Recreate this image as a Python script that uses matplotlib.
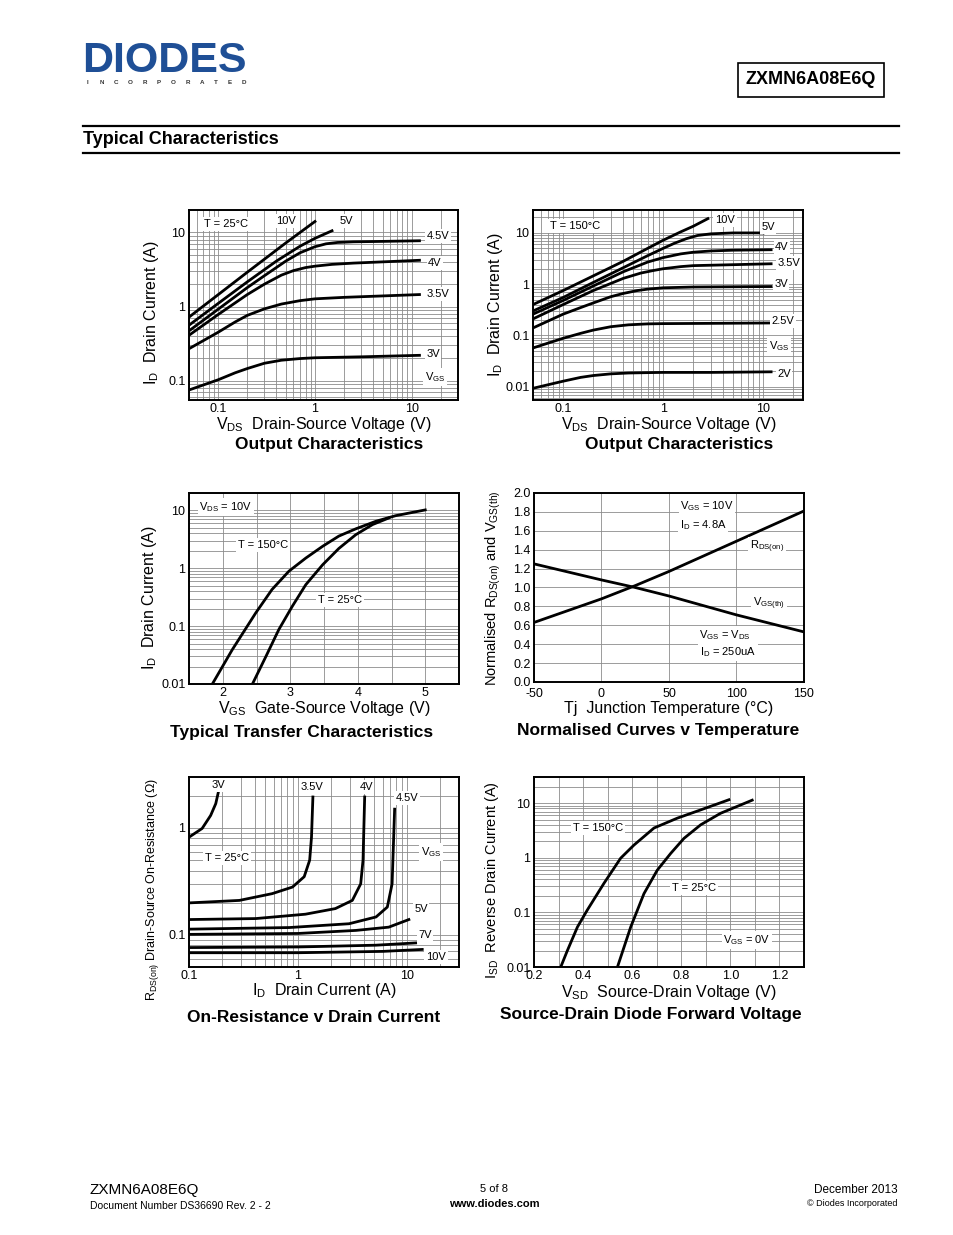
import matplotlib
matplotlib.use("Agg")
import matplotlib.pyplot as plt
from matplotlib.ticker import LogLocator, NullFormatter, MultipleLocator

plt.rcParams['font.family'] = ['Liberation Sans', 'DejaVu Sans']
plt.rcParams['mathtext.fontset'] = 'custom'
plt.rcParams['mathtext.rm'] = 'Liberation Sans'
plt.rcParams['mathtext.it'] = 'Liberation Sans'
plt.rcParams['mathtext.bf'] = 'Liberation Sans:bold'

W, H = 954, 1235

# Output characteristics, T = 25C  (VDS in V, ID in A)
out25_vgs = ["10V", "5V", "4.5V", "4V", "3.5V", "3V"]
out25_vds = [
    [0.05, 0.2, 0.5, 1.0],
    [0.05, 0.1, 0.2, 0.4, 0.7, 1.0, 1.5],
    [0.05, 0.1, 0.2, 0.3, 0.5, 0.7, 1.0, 1.3, 1.7, 2.5, 5, 12],
    [0.05, 0.1, 0.2, 0.3, 0.45, 0.6, 0.8, 1.0, 1.5, 2.5, 5, 12],
    [0.05, 0.1, 0.15, 0.2, 0.3, 0.45, 0.7, 1, 2, 5, 12],
    [0.05, 0.1, 0.15, 0.2, 0.3, 0.45, 0.7, 1, 3, 12],
]
out25_id = [
    [0.72, 2.9, 7.2, 14],
    [0.56, 1.1, 2.15, 4.1, 6.5, 8.3, 10.5],
    [0.47, 0.92, 1.8, 2.6, 4.1, 5.3, 6.4, 7.0, 7.3, 7.45, 7.55, 7.7],
    [0.41, 0.78, 1.45, 2.0, 2.65, 3.05, 3.35, 3.5, 3.7, 3.85, 4.0, 4.2],
    [0.27, 0.45, 0.62, 0.76, 0.93, 1.08, 1.2, 1.27, 1.33, 1.39, 1.45],
    [0.075, 0.103, 0.128, 0.146, 0.172, 0.189, 0.199, 0.204, 0.21, 0.22],
]

# Output characteristics, T = 150C
out150_vgs = ["10V", "5V", "4V", "3.5V", "3V", "2.5V", "2V"]
out150_vds = [
    [0.05, 0.1, 0.2, 0.4, 0.7, 1, 1.5, 2, 2.8],
    [0.05, 0.1, 0.2, 0.4, 0.7, 1, 1.3, 1.7, 2.2, 3, 5, 10],
    [0.05, 0.1, 0.2, 0.4, 0.7, 1, 1.5, 2, 3, 5, 12],
    [0.05, 0.1, 0.2, 0.4, 0.6, 0.8, 1, 1.5, 2, 5, 12],
    [0.05, 0.1, 0.15, 0.2, 0.3, 0.4, 0.55, 0.7, 1, 2, 5, 12],
    [0.05, 0.1, 0.15, 0.2, 0.3, 0.45, 0.7, 1, 3, 12],
    [0.05, 0.1, 0.15, 0.2, 0.3, 0.45, 0.7, 1, 3, 12],
]
out150_id = [
    [0.4, 0.75, 1.45, 2.8, 5.0, 7.2, 10.5, 13.5, 19],
    [0.3, 0.55, 1.08, 2.1, 3.6, 5.0, 6.3, 7.7, 8.9, 9.6, 10, 10],
    [0.26, 0.48, 0.92, 1.75, 2.7, 3.3, 3.9, 4.2, 4.45, 4.6, 4.7],
    [0.21, 0.4, 0.75, 1.3, 1.65, 1.85, 2.0, 2.2, 2.3, 2.4, 2.5],
    [0.14, 0.26, 0.35, 0.43, 0.57, 0.66, 0.75, 0.8, 0.85, 0.88, 0.89, 0.9],
    [0.057, 0.088, 0.11, 0.127, 0.148, 0.161, 0.168, 0.17, 0.172, 0.175],
    [0.0093, 0.0128, 0.0152, 0.0165, 0.0178, 0.0185, 0.0188, 0.019, 0.019, 0.0195],
]

# Transfer characteristics, VDS = 10V
tr150_vgs = [1.846, 2.14, 2.49, 2.73, 2.98, 3.23, 3.48, 3.72, 3.97, 4.27, 4.56, 5.0]
tr150_id = [0.01, 0.039, 0.17, 0.43, 0.89, 1.5, 2.4, 3.6, 4.8, 6.5, 8.1, 10.2]
tr25_vgs = [2.44, 2.64, 2.83, 3.03, 3.23, 3.48, 3.72, 3.97, 4.22, 4.46]
tr25_id = [0.01, 0.03, 0.087, 0.22, 0.52, 1.15, 2.2, 3.8, 5.7, 7.4]

# Normalised curves v temperature
tj = [-50, 0, 25, 50, 100, 150]
rds_norm = [0.63, 0.88, 1.02, 1.17, 1.49, 1.81]
vth_norm = [1.25, 1.08, 1.0, 0.91, 0.71, 0.53]

# On-resistance v drain current, T = 25C
ron_vgs = ["3V", "3.5V", "4V", "4.5V", "5V", "7V", "10V"]
ron_id = [
    [0.1, 0.132, 0.158, 0.176, 0.186],
    [0.1, 0.29, 0.58, 0.89, 1.14, 1.28, 1.33, 1.37],
    [0.1, 0.41, 1.17, 2.2, 3.15, 3.76, 3.95, 4.09],
    [0.1, 0.83, 2.94, 5.2, 6.6, 7.3, 7.7],
    [0.1, 1, 3.4, 6.8, 10.4],
    [0.1, 1, 5.2, 12],
    [0.1, 1, 6, 13.8],
]
ron_r = [
    [0.82, 0.99, 1.31, 1.69, 2.17],
    [0.199, 0.21, 0.243, 0.28, 0.35, 0.5, 0.82, 1.95],
    [0.139, 0.142, 0.156, 0.176, 0.21, 0.3, 0.5, 1.95],
    [0.113, 0.117, 0.127, 0.147, 0.182, 0.3, 1.5],
    [0.101, 0.103, 0.11, 0.118, 0.139],
    [0.076, 0.077, 0.08, 0.084],
    [0.068, 0.068, 0.07, 0.073],
]

# Source-drain diode forward voltage
sd150_v = [0.309, 0.336, 0.377, 0.417, 0.485, 0.553, 0.607, 0.689, 0.784, 0.879, 0.994]
sd150_i = [0.01, 0.02, 0.054, 0.11, 0.34, 0.98, 1.7, 3.5, 5.3, 7.5, 11.5]
sd25_v = [0.54, 0.594, 0.648, 0.702, 0.757, 0.811, 0.879, 0.96, 1.028, 1.089]
sd25_i = [0.01, 0.054, 0.22, 0.59, 1.2, 2.26, 4.0, 6.5, 8.7, 11.3]


fig = plt.figure(figsize=(W / 100, H / 100), dpi=100)
fig.patch.set_facecolor('white')


def fx(x):
    return x / W


def fy(y):
    return 1 - y / H


def make_ax(x0, x1, y0, y1):
    ax = fig.add_axes([fx(x0), fy(y1), (x1 - x0) / W, (y1 - y0) / H])
    for s in ax.spines.values():
        s.set_linewidth(1.4)
    ax.tick_params(which='both', length=0, labelsize=9, pad=2.5)
    ax.set_axisbelow(True)
    return ax


def log_grid(ax, axis='both'):
    if axis in ('both', 'x'):
        ax.xaxis.set_minor_locator(LogLocator(base=10, subs=range(2, 10), numticks=20))
        ax.xaxis.set_minor_formatter(NullFormatter())
    if axis in ('both', 'y'):
        ax.yaxis.set_minor_locator(LogLocator(base=10, subs=range(2, 10), numticks=20))
        ax.yaxis.set_minor_formatter(NullFormatter())
    ax.grid(True, which='both', color='#8c8c8c', lw=0.6)


def lbl(x, y, s, size=8, ha='center'):
    fig.text(fx(x), fy(y), s, fontsize=size, ha=ha, va='center',
             bbox=dict(facecolor='white', edgecolor='none', pad=1.2))


def xlab(x, y, s, size=11.5):
    fig.text(fx(x), fy(y), s, fontsize=size, ha='center', va='center')


def ylab(x, y, s, size=11.5):
    fig.text(fx(x), fy(y), s, fontsize=size, ha='center', va='center', rotation=90)


def title(x, y, s):
    fig.text(fx(x), fy(y), s, fontsize=12.5, ha='center', va='center', fontweight='bold')


LW = 2.0

# ---- chart 1: output characteristics 25C ----
ax = make_ax(189, 458, 210, 400)
for v, i in zip(out25_vds, out25_id):
    ax.plot(v, i, color='black', lw=LW)
ax.set_xscale('log')
ax.set_yscale('log')
ax.set_xlim(0.05, 30)
ax.set_ylim(0.055, 20)
ax.set_xticks([0.1, 1, 10], ['0.1', '1', '10'])
ax.set_yticks([0.1, 1, 10], ['0.1', '1', '10'])
log_grid(ax)
lbl(226, 224, 'T = 25°C')
lbl(286, 221, '10V')
lbl(346, 221, '5V')
lbl(438, 236, '4.5V')
lbl(435, 263, '4V')
lbl(438, 294, '3.5V')
lbl(433, 354, '3V')
lbl(435, 377, r'V$_{\mathregular{GS}}$')
ylab(152, 313, r'I$_{\mathregular{D}}$  Drain Current (A)')
xlab(324, 424, r'V$_{\mathregular{DS}}$  Drain-Source Voltage (V)')
title(329, 445, 'Output Characteristics')

# ---- chart 2: output characteristics 150C ----
ax = make_ax(533, 803, 210, 400)
for v, i in zip(out150_vds, out150_id):
    ax.plot(v, i, color='black', lw=LW)
ax.set_xscale('log')
ax.set_yscale('log')
ax.set_xlim(0.05, 25)
ax.set_ylim(0.0055, 28)
ax.set_xticks([0.1, 1, 10], ['0.1', '1', '10'])
ax.set_yticks([0.01, 0.1, 1, 10], ['0.01', '0.1', '1', '10'])
log_grid(ax)
lbl(575, 226, 'T = 150°C')
lbl(725, 220, '10V')
lbl(768, 227, '5V')
lbl(782, 247, '4V')
lbl(789, 263, '3.5V')
lbl(781, 284, '3V')
lbl(783, 321, '2.5V')
lbl(779, 346, r'V$_{\mathregular{GS}}$')
lbl(784, 374, '2V')
ylab(496, 305, r'I$_{\mathregular{D}}$  Drain Current (A)')
xlab(669, 424, r'V$_{\mathregular{DS}}$  Drain-Source Voltage (V)')
title(679, 445, 'Output Characteristics')

# ---- chart 3: transfer characteristics ----
ax = make_ax(189, 459, 493, 684)
ax.plot(tr150_vgs, tr150_id, color='black', lw=LW)
ax.plot(tr25_vgs, tr25_id, color='black', lw=LW)
ax.set_yscale('log')
ax.set_xlim(1.5, 5.5)
ax.set_ylim(0.01, 20)
ax.set_xticks([2, 3, 4, 5], ['2', '3', '4', '5'])
ax.xaxis.set_minor_locator(MultipleLocator(0.5))
ax.set_yticks([0.01, 0.1, 1, 10], ['0.01', '0.1', '1', '10'])
log_grid(ax, 'y')
lbl(226, 507, r'V$_{\mathregular{DS}}$ = 10V')
lbl(263, 545, 'T = 150°C')
lbl(340, 600, 'T = 25°C')
ylab(150, 598, r'I$_{\mathregular{D}}$  Drain Current (A)')
xlab(324, 708, r'V$_{\mathregular{GS}}$  Gate-Source Voltage (V)')
title(302, 732, 'Typical Transfer Characteristics')

# ---- chart 4: normalised curves v temperature ----
ax = make_ax(534, 804, 493, 682)
ax.plot(tj, rds_norm, color='black', lw=LW)
ax.plot(tj, vth_norm, color='black', lw=LW)
ax.set_xlim(-50, 150)
ax.set_ylim(0, 2.0)
ax.set_xticks([-50, 0, 50, 100, 150], ['-50', '0', '50', '100', '150'])
ax.set_yticks([0.2 * k for k in range(11)], ['%.1f' % (0.2 * k) for k in range(11)])
ax.tick_params(axis='x', pad=4)
ax.grid(True, color='#8c8c8c', lw=0.6)
lbl(707, 506, r'V$_{\mathregular{GS}}$ = 10V')
lbl(703, 525, r'I$_{\mathregular{D}}$ = 4.8A')
lbl(767, 547, r'R$_{\mathregular{DS(on)}}$')
lbl(769, 604, r'V$_{\mathregular{GS(th)}}$')
lbl(725, 635, r'V$_{\mathregular{GS}}$ = V$_{\mathregular{DS}}$')
lbl(728, 652, r'I$_{\mathregular{D}}$ = 250uA')
ylab(493, 588, r'Normalised R$_{\mathregular{DS(on)}}$ and V$_{\mathregular{GS(th)}}$', size=10.5)
xlab(669, 708, 'Tj  Junction Temperature (°C)')
title(658, 731, 'Normalised Curves v Temperature')

# ---- chart 5: on-resistance v drain current ----
ax = make_ax(189, 459, 777, 967)
for i, r in zip(ron_id, ron_r):
    ax.plot(i, r, color='black', lw=LW)
ax.set_xscale('log')
ax.set_yscale('log')
ax.set_xlim(0.1, 30)
ax.set_ylim(0.05, 3)
ax.set_xticks([0.1, 1, 10], ['0.1', '1', '10'])
ax.set_yticks([0.1, 1], ['0.1', '1'])
log_grid(ax)
lbl(218, 785, '3V')
lbl(312, 787, '3.5V')
lbl(366, 787, '4V')
lbl(407, 798, '4.5V')
lbl(431, 852, r'V$_{\mathregular{GS}}$')
lbl(227, 858, 'T = 25°C')
lbl(421, 909, '5V')
lbl(425, 935, '7V')
lbl(436, 957, '10V')
ylab(153, 890, r'R$_{\mathregular{DS(on)}}$ Drain-Source On-Resistance ($\Omega$)', size=9)
xlab(324, 991, r'I$_{\mathregular{D}}$  Drain Current (A)')
title(314, 1017, 'On-Resistance v Drain Current')

# ---- chart 6: source-drain diode forward voltage ----
ax = make_ax(534, 804, 777, 967)
ax.plot(sd150_v, sd150_i, color='black', lw=LW)
ax.plot(sd25_v, sd25_i, color='black', lw=LW)
ax.set_yscale('log')
ax.set_xlim(0.2, 1.3)
ax.set_ylim(0.01, 30)
ax.set_xticks([0.2, 0.4, 0.6, 0.8, 1.0, 1.2], ['0.2', '0.4', '0.6', '0.8', '1.0', '1.2'])
ax.xaxis.set_minor_locator(MultipleLocator(0.1))
ax.set_yticks([0.01, 0.1, 1, 10], ['0.01', '0.1', '1', '10'])
log_grid(ax, 'y')
lbl(598, 828, 'T = 150°C')
lbl(694, 888, 'T = 25°C')
lbl(747, 940, r'V$_{\mathregular{GS}}$ = 0V')
ylab(492, 880, r'I$_{\mathregular{SD}}$  Reverse Drain Current (A)', size=10.5)
xlab(669, 993, r'V$_{\mathregular{SD}}$  Source-Drain Voltage (V)')
title(651, 1014, 'Source-Drain Diode Forward Voltage')

# ---- page header ----
fig.text(fx(82), fy(61), 'DIODES', fontsize=31, fontweight='bold', color='#1f4f96',
         ha='left', va='center')
for k, ch in enumerate('INCORPORATED'):
    fig.text(fx(88 + k * 14.2), fy(83), ch, fontsize=4.5, fontweight='bold',
             color='#333333', ha='center', va='center')
fig.text(fx(811), fy(80), 'ZXMN6A08E6Q', fontsize=13, fontweight='bold', ha='center',
         va='center',
         bbox=dict(facecolor='white', edgecolor='black', lw=1.2, boxstyle='square,pad=0.45'))
fig.add_artist(plt.Line2D([fx(83), fx(899)], [fy(126), fy(126)], color='black', lw=1.6))
fig.add_artist(plt.Line2D([fx(83), fx(899)], [fy(153), fy(153)], color='black', lw=1.6))
fig.text(fx(83), fy(140), 'Typical Characteristics', fontsize=13, fontweight='bold',
         ha='left', va='center')

# ---- page footer ----
fig.text(fx(90), fy(1190), 'ZXMN6A08E6Q', fontsize=11, ha='left', va='center')
fig.text(fx(90), fy(1206), 'Document Number DS36690 Rev. 2 - 2', fontsize=7.5, ha='left',
         va='center')
fig.text(fx(494), fy(1189), '5 of 8', fontsize=8, ha='center', va='center')
fig.text(fx(494), fy(1204), 'www.diodes.com', fontsize=8, fontweight='bold', ha='center',
         va='center')
fig.text(fx(898), fy(1190), 'December 2013', fontsize=8.5, ha='right', va='center')
fig.text(fx(898), fy(1204), '© Diodes Incorporated', fontsize=6.5, ha='right', va='center')

fig.savefig('out.png', dpi=100, facecolor='white')
